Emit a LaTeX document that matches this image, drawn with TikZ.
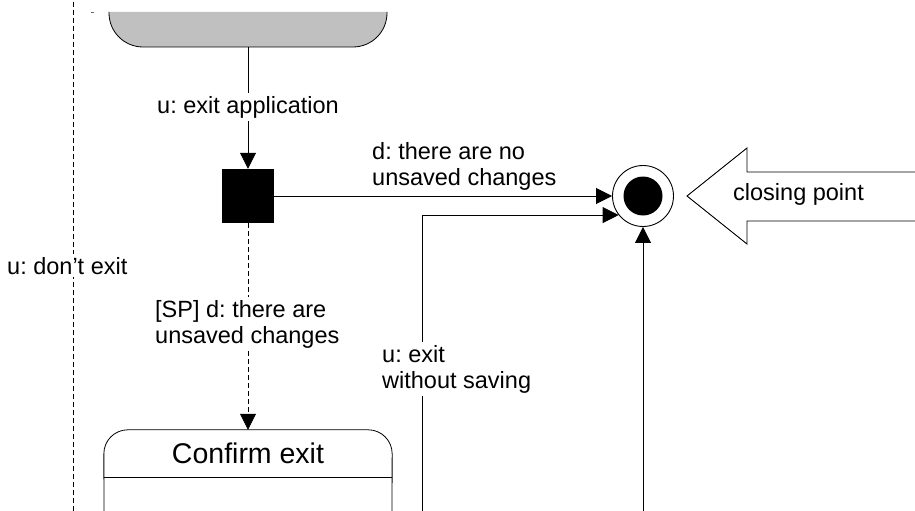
\documentclass[tikz,border=0pt]{standalone}
\usepackage{fontspec}
\setmainfont{Liberation Sans}
\usetikzlibrary{arrows.meta}
\definecolor{stategray}{HTML}{C0C0C0}
\frenchspacing
\tikzset{
  lbl/.style={font=\fontsize{23.5}{25.5}\selectfont, inner sep=0pt, align=left},
  gaplbl/.style={lbl, fill=white, inner sep=3pt},
  edge/.style={line width=0.8pt, draw=black},
  flow/.style={edge, -{Triangle[length=16pt,width=16pt]}},
  dflow/.style={flow, dash pattern=on 5pt off 3pt},
}
\begin{document}
\begin{tikzpicture}[x=1pt,y=-1pt]
\useasboundingbox (0,0) rectangle (915,511);
\clip (0,0) rectangle (915,511);

% state at the top (bottom part only)
\path[fill=stategray, edge, rounded corners=34pt]
  (109,12) -- (109,47) -- (387,47) -- (387,12);
\coordinate (main) at (248,47);
\draw[line width=0.6pt, black!60] (91,12.5) -- (94,12.5);

% decision square
\node[fill=black, minimum width=52pt, minimum height=54pt, inner sep=0pt] (choice) at (248,196) {};

% final state
\node[circle, draw, line width=0.9pt, minimum size=61pt, inner sep=0pt] (final) at (643,196) {};
\node[circle, fill=black, minimum size=39pt, inner sep=0pt] (finaldot) at (final.center) {};

% Confirm exit state
\node[font=\fontsize{28.5}{30}\selectfont, minimum width=288pt, minimum height=47pt, inner sep=0pt]
  (confirm) at (248,453.5) {Confirm exit};
\draw[edge, rounded corners=24pt]
  (104,530) -- (confirm.north west) -- (confirm.north east) -- (392,530);
\draw[edge] (confirm.south west) -- (confirm.south east);

% free ends of the connectors leaving the picture
\coordinate (back0) at (73,0);
\coordinate (back1) at (73,511);
\coordinate (nosave) at (422,520);
\coordinate (other) at (643,520);

% connectors
\draw[edge, dash pattern=on 5pt off 3pt] (back1) -- (back0);
\draw[flow] (main) -- (choice.north);
\draw[flow] (choice.east) -- (final.west);
\draw[dflow] (choice.south) -- (confirm.north);
\draw[flow] (nosave) |- (final.218.5);
\draw[flow] (other) -- (final.south);

% connector labels (base = baseline of the last line)
\node[gaplbl, anchor=base west] (l1) at (154,113) {u: exit application};
\node[lbl, anchor=base west] (l2) at (372,185) {d: there are no\\unsaved changes};
\node[gaplbl, anchor=base west] (l3) at (152,343) {[SP] d: there are\\unsaved changes};
\node[gaplbl, anchor=base west] (l4) at (379,388) {u: exit\\without saving};
\node[gaplbl, anchor=base west] (l5) at (4,274) {u: don’t exit};

% closing point marker
\draw[edge, fill=white, line width=0.9pt]
  (687,196) -- (747,148) -- (747,172) -- (930,172) -- (930,221)
  -- (747,221) -- (747,244) -- cycle;
\node[lbl, anchor=base west] (cp) at (733,200) {closing point};
\end{tikzpicture}
\end{document}
